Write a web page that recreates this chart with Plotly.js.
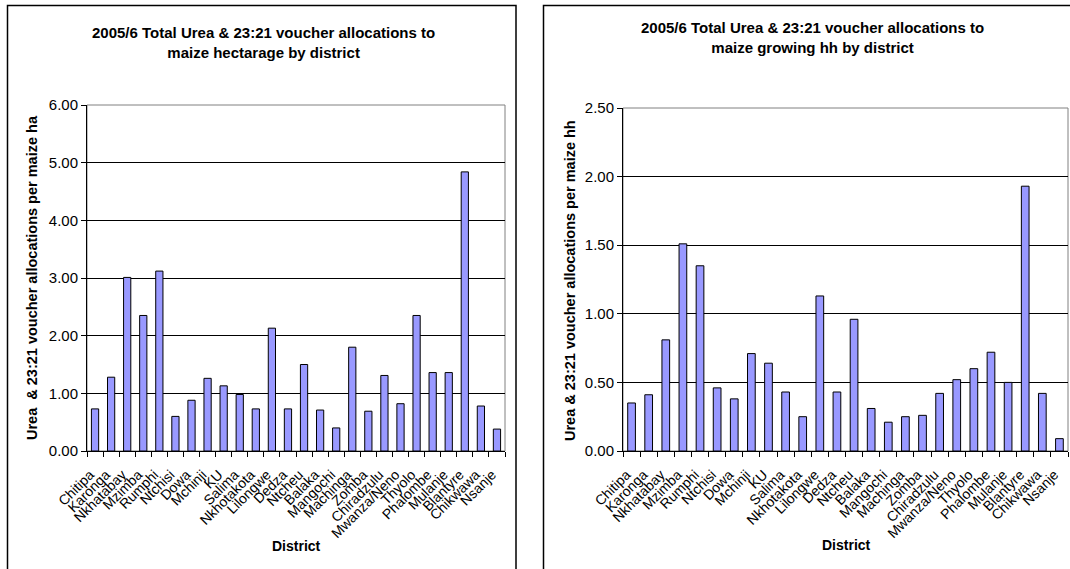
<!DOCTYPE html>
<html>
<head>
<meta charset="utf-8">
<script src="https://cdn.plot.ly/plotly-3.0.1.min.js"></script>
<style>html,body{margin:0;padding:0;background:#fff;}#chart{width:1070px;height:569px;}</style>
</head>
<body>
<div id="chart"></div>
<script>
const districts = ["Chitipa","Karonga","Nkhatabay","Mzimba","Rumphi","Ntchisi","Dowa","Mchinji","KU","Salima","Nkhotakota","Lilongwe","Dedza","Ntcheu","Balaka","Mangochi","Machinga","Zomba","Chiradzulu","Mwanza/Neno","Thyolo","Phalombe","Mulanje","Blantyre","Chikwawa","Nsanje"];
const perHectare = [0.73,1.28,3.01,2.35,3.12,0.60,0.88,1.26,1.13,0.98,0.73,2.13,0.73,1.50,0.71,0.40,1.80,0.69,1.31,0.82,2.35,1.36,1.36,4.84,0.78,0.38];
const perHousehold = [0.35,0.41,0.81,1.51,1.35,0.46,0.38,0.71,0.64,0.43,0.25,1.13,0.43,0.96,0.31,0.21,0.25,0.26,0.42,0.52,0.60,0.72,0.50,1.93,0.42,0.09];

const titleLeft = "2005/6 Total Urea &amp; 23:21 voucher allocations to<br>maize hectarage by district";
const titleRight = "2005/6 Total Urea &amp; 23:21 voucher allocations to<br>maize growing hh by district";
const yTitleLeft = "Urea  &amp; 23:21 voucher allocations per maize ha";
const yTitleRight = "Urea &amp; 23:21 voucher allocations per maize hh";
const xTitle = "District";

const W = 1070, H = 569;
const px = v => v / W;
const py = v => 1 - v / H;
const FONT = "Arial, 'Liberation Sans', sans-serif";

const barStyle = {color: "#9999FF", line: {color: "#000000", width: 1}};

const traces = [
  {type: "bar", x: districts, y: perHectare, xaxis: "x", yaxis: "y", marker: barStyle, hoverinfo: "x+y"},
  {type: "bar", x: districts, y: perHousehold, xaxis: "x2", yaxis: "y2", marker: barStyle, hoverinfo: "x+y"}
];

function xAxis(domain, anchor) {
  return {
    domain: domain, anchor: anchor, type: "category",
    showline: true, linecolor: "#000", linewidth: 1,
    ticks: "outside", ticklen: 5, tickcolor: "#000", tickson: "boundaries",
    tickangle: -45, tickfont: {family: FONT, size: 14, color: "#000"},
    ticklabelshift: -5, ticklabelstandoff: 9,
    tickmode: "linear", dtick: 1,
    showgrid: false, zeroline: false, fixedrange: true
  };
}
function yAxis(domain, anchor, range, dtick) {
  return {
    domain: domain, anchor: anchor, range: range, dtick: dtick, tick0: 0,
    tickformat: ".2f",
    showline: true, linecolor: "#000", linewidth: 1,
    ticks: "outside", ticklen: 5, tickcolor: "#000",
    tickfont: {family: FONT, size: 15, color: "#000"},
    showgrid: true, gridcolor: "#000", gridwidth: 1, zeroline: false, fixedrange: true
  };
}

const leftDomX = [px(87), px(505)];
const leftDomY = [py(451), py(105)];
const rightDomX = [px(623), px(1068)];
const rightDomY = [py(451), py(108)];

const layout = {
  width: W, height: H,
  margin: {l: 0, r: 0, t: 0, b: 0},
  paper_bgcolor: "#fff", plot_bgcolor: "#fff",
  showlegend: false,
  bargap: 0.55,
  font: {family: FONT, color: "#000"},
  xaxis: xAxis(leftDomX, "y"),
  yaxis: yAxis(leftDomY, "x", [0, 6], 1),
  xaxis2: xAxis(rightDomX, "y2"),
  yaxis2: yAxis(rightDomY, "x2", [0, 2.5], 0.5),
  shapes: [
    {type: "rect", xref: "paper", yref: "paper", x0: px(7.5), x1: px(516), y0: py(5.5), y1: py(600), line: {color: "#000", width: 1.5}, fillcolor: "rgba(0,0,0,0)", layer: "below"},
    {type: "rect", xref: "paper", yref: "paper", x0: px(543.5), x1: px(1100), y0: py(5.5), y1: py(600), line: {color: "#000", width: 1.5}, fillcolor: "rgba(0,0,0,0)", layer: "below"},
    {type: "rect", xref: "x domain", yref: "y domain", x0: 0, x1: 1, y0: 0, y1: 1, line: {color: "#808080", width: 1}, layer: "below"},
    {type: "rect", xref: "x2 domain", yref: "y2 domain", x0: 0, x1: 1, y0: 0, y1: 1, line: {color: "#808080", width: 1}, layer: "below"}
  ],
  annotations: [
    {xref: "paper", yref: "paper", x: px(263), y: py(42), text: titleLeft, showarrow: false, xanchor: "center", yanchor: "middle", font: {family: FONT, size: 15, color: "#000", weight: "bold"}, align: "center"},
    {xref: "paper", yref: "paper", x: px(812), y: py(38), text: titleRight, showarrow: false, xanchor: "center", yanchor: "middle", font: {family: FONT, size: 15, color: "#000", weight: "bold"}, align: "center"},
    {xref: "paper", yref: "paper", x: px(32), y: py(278), text: yTitleLeft, textangle: -90, showarrow: false, xanchor: "center", yanchor: "middle", font: {family: FONT, size: 14.5, color: "#000", weight: "bold"}},
    {xref: "paper", yref: "paper", x: px(570), y: py(281), text: yTitleRight, textangle: -90, showarrow: false, xanchor: "center", yanchor: "middle", font: {family: FONT, size: 14.5, color: "#000", weight: "bold"}},
    {xref: "paper", yref: "paper", x: px(296), y: py(546), text: xTitle, showarrow: false, xanchor: "center", yanchor: "middle", font: {family: FONT, size: 14, color: "#000", weight: "bold"}},
    {xref: "paper", yref: "paper", x: px(846), y: py(545), text: xTitle, showarrow: false, xanchor: "center", yanchor: "middle", font: {family: FONT, size: 14, color: "#000", weight: "bold"}}
  ]
};

Plotly.newPlot("chart", traces, layout, {displayModeBar: false, staticPlot: true});
</script>
</body>
</html>
